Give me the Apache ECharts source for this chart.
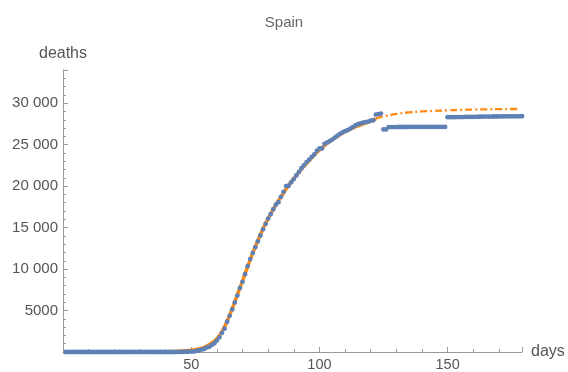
<!DOCTYPE html>
<html>
<head>
<meta charset="utf-8">
<script src="https://cdn.jsdelivr.net/npm/echarts@6/dist/echarts.min.js"></script>
<style>
html,body{margin:0;padding:0;background:#fff;}
#c{width:568px;height:372px;}
</style>
</head>
<body>
<div id="c"></div>
<script>
// Chart title and axis names
var chartTitle = 'Spain';
var xName = 'days';
var yName = 'deaths';

// Observed cumulative deaths, day 1 .. day 179
var deaths = [
  0,0,0,0,0,0,0,0,0,0,
  0,0,0,0,0,0,0,0,0,0,
  0,0,0,0,0,0,0,0,0,0,
  0,0,0,0,0,0,0,0,0,0,
  0,1,2,3,5,10,17,28,35,54,
  55,133,195,289,342,533,623,830,1043,1375,
  1772,2311,2808,3647,4365,5138,5982,6803,7716,8464,
  9387,10348,11198,11947,12641,13341,14045,14792,15447,16081,
  16606,17209,17756,18056,18708,19315,20002,20043,20453,20852,
  21282,21717,22157,22524,22902,23190,23521,23822,24275,24543,
  24543,25100,25264,25428,25613,25857,26070,26299,26478,26621,
  26744,26920,27104,27321,27459,27563,27650,27709,27778,27888,
  27940,28628,28678,28752,26834,26834,27117,27117,27119,27121,
  27125,27127,27127,27128,27133,27134,27135,27136,27136,27136,
  27136,27136,27136,27136,27136,27136,27136,27136,27136,
  28315,28315,28315,28322,28324,28327,28330,28338,28341,28343,28346,28355,
  28363,28368,28385,28385,28385,28388,28392,28396,28401,28403,
  28406,28409,28409,28409,28413,28416,28420,28422
];

// Fitted curve
var fitDays = [0,30,40,45,50,53,55,57,60,62,65,68,70,73,75,78,80,83,85,88,90,93,95,98,100,103,105,108,110,113,115,118,120,122,125,130,135,140,145,150,155,160,165,170,175,178];
var fitValues = [0,5,40,90,220,380,560,880,1600,2450,4450,6900,8550,11150,12700,14850,16100,17750,18700,20100,20900,22050,22750,23750,24350,25150,25600,26200,26550,27000,27250,27600,27800,28150,28400,28700,28900,29000,29080,29140,29190,29230,29260,29280,29295,29300];
var fitSplitDay = 122;

// Axis ticks
var xTickStep = 50;
var yTickStep = 5000;

var pts = deaths.map(function (v, i) { return [i + 1, v]; });
var fitSolid = [], fitDashed = [];
fitDays.forEach(function (d, i) {
  if (d <= fitSplitDay) fitSolid.push([d, fitValues[i]]);
  if (d >= fitSplitDay) fitDashed.push([d, fitValues[i]]);
});

function fmtNum(v) {
  if (v === 0) return '';
  var s = String(v);
  if (s.length > 4) s = s.slice(0, s.length - 3) + ' ' + s.slice(s.length - 3);
  return s;
}

var chart = echarts.init(document.getElementById('c'), null, {renderer: 'canvas'});
var axisCol = '#9a9a9a';
var txtCol = '#555';
var font = 'Liberation Sans, Arial, sans-serif';

chart.setOption({
  animation: false,
  backgroundColor: '#fff',
  title: {
    text: chartTitle, left: 'center', top: 10,
    textStyle: {fontSize: 15, fontWeight: 'normal', color: '#666', fontFamily: font}
  },
  grid: {left: 63, right: 46, top: 70, bottom: 18, containLabel: false},
  xAxis: {
    type: 'value', min: 0, max: 179, interval: xTickStep,
    name: xName, nameLocation: 'end', nameGap: 9,
    nameTextStyle: {fontSize: 16, color: txtCol, fontFamily: font, verticalAlign: 'middle'},
    axisLine: {show: true, onZero: false, lineStyle: {color: axisCol, width: 1}},
    axisTick: {show: true, inside: true, length: 5, lineStyle: {color: axisCol}},
    minorTick: {show: true, splitNumber: 5, length: 3, lineStyle: {color: axisCol}},
    axisLabel: {
      margin: 5, fontSize: 14.5, color: txtCol, fontFamily: font,
      showMaxLabel: false, showMinLabel: false,
      formatter: function (v) { return (v % xTickStep === 0 && v !== 0) ? String(v) : ''; }
    },
    splitLine: {show: false}
  },
  yAxis: {
    type: 'value', min: 0, max: 34000, interval: yTickStep,
    name: yName, nameLocation: 'end', nameGap: 8,
    nameTextStyle: {fontSize: 16, color: txtCol, fontFamily: font, align: 'center'},
    axisLine: {show: true, onZero: false, lineStyle: {color: axisCol, width: 1}},
    axisTick: {show: true, inside: true, length: 5, lineStyle: {color: axisCol}},
    minorTick: {show: true, splitNumber: 5, length: 3, lineStyle: {color: axisCol}},
    axisLabel: {
      margin: 5, fontSize: 15, color: txtCol, fontFamily: font,
      showMaxLabel: false,
      formatter: function (v) { return (v % yTickStep === 0) ? fmtNum(v) : ''; }
    },
    splitLine: {show: false}
  },
  series: [
    {
      type: 'line', data: fitSolid, smooth: 0.4, showSymbol: false, z: 2,
      lineStyle: {color: '#ff8a14', width: 3.5}
    },
    {
      type: 'line', data: fitDashed, smooth: 0.4, showSymbol: false, z: 2,
      lineStyle: {color: '#ff8a14', width: 2.3, type: [7, 3, 2, 3]}
    },
    {
      type: 'scatter', data: pts, symbol: 'circle', symbolSize: 4.8, z: 3,
      itemStyle: {color: '#5e81b5', opacity: 1}
    }
  ]
});
</script>
</body>
</html>
